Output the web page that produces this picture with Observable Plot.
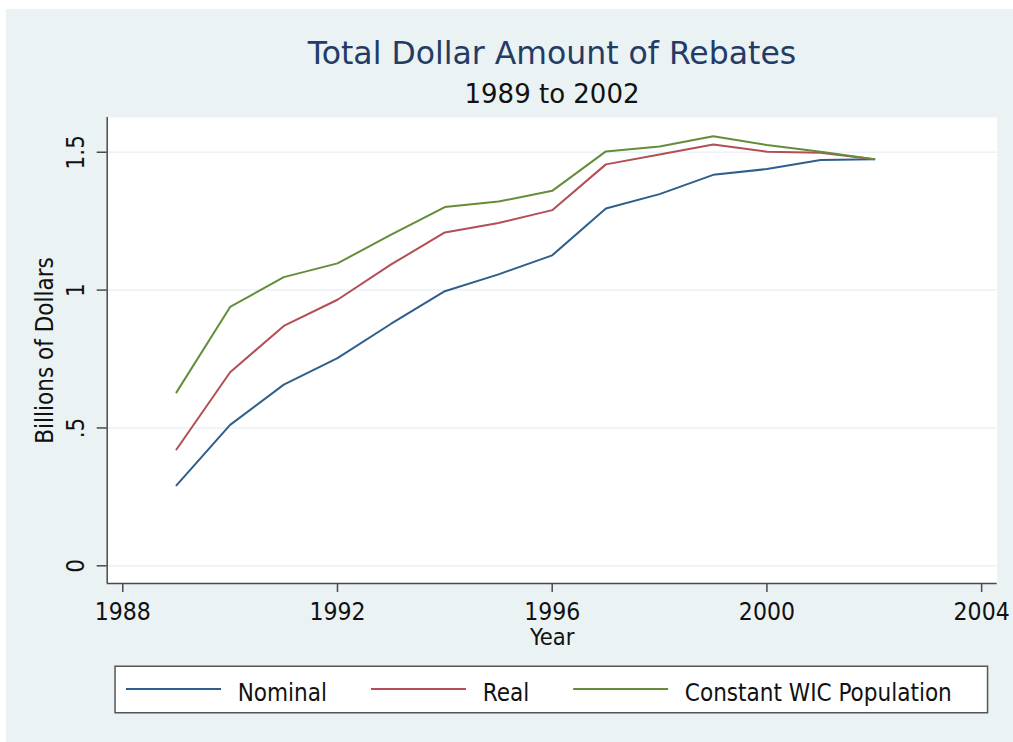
<!DOCTYPE html>
<html><head><meta charset="utf-8">
<script src="https://cdn.jsdelivr.net/npm/d3@7"></script>
<script src="https://cdn.jsdelivr.net/npm/@observablehq/plot@0.6"></script>
<style>
html,body{margin:0;padding:0;background:#fff;}
#page{position:relative;width:1013px;height:742px;overflow:hidden;}
#bg{position:absolute;left:6px;top:9px;right:0;bottom:0;background:#EAF2F3;}
.t{position:absolute;left:107px;width:890px;text-align:center;white-space:nowrap;font-family:"DejaVu Sans",sans-serif;line-height:1;}
#title{top:38.4px;font-size:31.5px;color:#243B66;}
#subtitle{top:81.3px;font-size:26px;color:#111;}
#chart{position:absolute;left:0;top:100px;}
#legend{position:absolute;left:0;top:650px;}
</style></head>
<body><div id="page"><div id="bg"></div>
<div id="title" class="t">Total Dollar Amount of Rebates</div>
<div id="subtitle" class="t">1989 to 2002</div>
<div id="chart"></div><div id="legend"></div></div>
<script>
const years = [1989,1990,1991,1992,1993,1994,1995,1996,1997,1998,1999,2000,2001,2002];
const nominal = [0.292,0.511,0.657,0.753,0.878,0.996,1.057,1.126,1.296,1.348,1.418,1.439,1.472,1.475];
const real = [0.422,0.702,0.870,0.965,1.093,1.209,1.243,1.290,1.456,1.492,1.528,1.502,1.498,1.475];
const constantPop = [0.629,0.939,1.047,1.097,1.201,1.301,1.321,1.360,1.503,1.521,1.558,1.526,1.502,1.475];
const seriesNames = ["Nominal","Real","Constant WIC Population"];
const seriesColors = ["#2E5F8C","#B24E54","#648D3A"];
const xTicks = [1988,1992,1996,2000,2004];
const yTicks = [0,0.5,1,1.5];
const yTickLabels = ["0",".5","1","1.5"];
const xTitle = "Year";
const yTitle = "Billions of Dollars";

const xDomain = [1987.71, 2004.29];
const yDomain = [-0.0642, 1.626];
const seriesValues = [nominal, real, constantPop];
const table = seriesNames.flatMap((s,k) => years.map((yr,i) => ({series:s, year:yr, value:seriesValues[k][i]})));
const axisColor = "#4a4a4a";
const fontCond = "'DejaVu Sans Condensed','DejaVu Sans',sans-serif";

const chart = Plot.plot({
  width:1013, height:560, marginLeft:106.7, marginRight:16.3, marginTop:17, marginBottom:77,
  style:{background:"transparent", fontFamily:fontCond, color:"#111", overflow:"visible"},
  x:{domain:xDomain}, y:{domain:yDomain},
  color:{domain:seriesNames, range:seriesColors},
  marks:[
    Plot.frame({fill:"white", stroke:"none"}),
    Plot.gridY(yTicks, {stroke:"#EAF2F3", strokeOpacity:1, strokeWidth:1.5}),
    Plot.line(table, {x:"year", y:"value", stroke:"series", z:"series", strokeWidth:2}),
    Plot.ruleX([xDomain[0]], {stroke:axisColor, strokeWidth:1.5}),
    Plot.ruleY([yDomain[0]], {stroke:axisColor, strokeWidth:1.5}),
    Plot.axisX(xTicks, {tickFormat:d => String(d), tickSize:9, tickPadding:10, fontSize:24.5, stroke:axisColor, strokeWidth:1.5, label:null}),
    Plot.axisY(yTicks, {tickFormat:d => yTickLabels[yTicks.indexOf(d)], tickRotate:-90, tickSize:10, tickPadding:13, fontSize:24, stroke:axisColor, strokeWidth:1.5, label:null}),
    Plot.text([xTitle], {frameAnchor:"bottom", dy:45, lineAnchor:"top", fontSize:23.5}),
    Plot.text([yTitle], {frameAnchor:"left", dx:-54, rotate:-90, lineAnchor:"bottom", textAnchor:"middle", fontSize:24})
  ]
});
document.getElementById("chart").appendChild(chart);

// legend
const L = d3.select("#legend").append("svg").attr("width",1013).attr("height",92).style("display","block");
L.append("rect").attr("x",115.05).attr("y",16.25).attr("width",872.5).attr("height",46.5)
  .attr("fill","white").attr("stroke","#555").attr("stroke-width",1.5);
let cx = 126;
seriesNames.forEach((name,i) => {
  L.append("line").attr("x1",cx).attr("x2",cx+95).attr("y1",39).attr("y2",39)
    .attr("stroke",seriesColors[i]).attr("stroke-width",2);
  const t = L.append("text").attr("x",cx+111.7).attr("y",51).attr("font-size",24)
    .attr("font-family",fontCond).attr("fill","#111").text(name);
  const w = t.node().getComputedTextLength();
  cx = cx + 111.7 + w + 44;
});
</script>
</body></html>
